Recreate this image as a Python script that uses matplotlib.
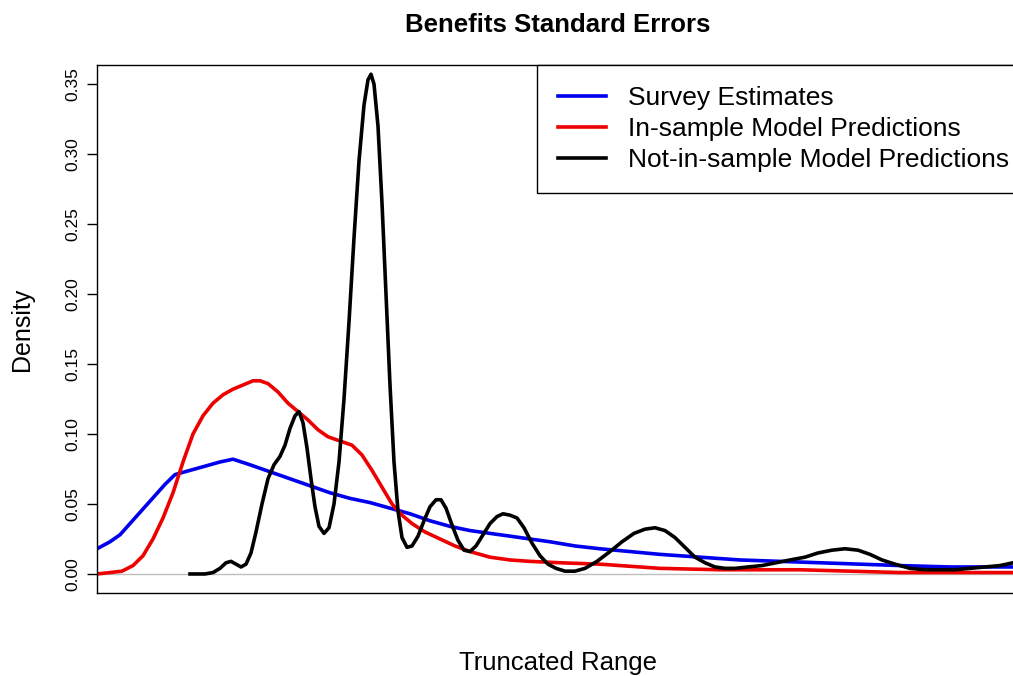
import numpy as np
import matplotlib
matplotlib.use("Agg")
import matplotlib.pyplot as plt

plt.rcParams['font.family'] = ['Liberation Sans', 'DejaVu Sans']

# density curves (x in "truncated range" units, no ticks shown)
survey_x = [97, 110, 120, 135, 150, 165, 175, 190, 205, 220, 233, 250, 270, 290, 310, 330, 350,
            370, 390, 410, 430, 450, 470, 490, 510, 530, 550, 575, 600, 630, 660, 700, 740, 780,
            820, 860, 900, 950, 1013]
survey_y = [0.018, 0.023, 0.028, 0.040, 0.052, 0.064, 0.071, 0.074, 0.077, 0.080, 0.082, 0.078,
            0.073, 0.068, 0.063, 0.058, 0.054, 0.051, 0.047, 0.043, 0.038, 0.034, 0.031, 0.029,
            0.027, 0.025, 0.023, 0.020, 0.018, 0.016, 0.014, 0.012, 0.010, 0.009, 0.008, 0.007,
            0.006, 0.005, 0.005]

insample_x = [97, 110, 122, 133, 143, 153, 163, 173, 183, 193, 203, 213, 223, 233, 243, 253, 260,
              268, 278, 288, 298, 308, 318, 328, 340, 352, 362, 372, 382, 392, 402, 412, 425, 440,
              455, 470, 490, 510, 530, 560, 600, 640, 660, 720, 800, 850, 900, 1013]
insample_y = [0.000, 0.001, 0.002, 0.006, 0.013, 0.025, 0.040, 0.058, 0.080, 0.100, 0.113, 0.122,
              0.128, 0.132, 0.135, 0.138, 0.138, 0.136, 0.130, 0.122, 0.116, 0.110, 0.103, 0.098,
              0.095, 0.092, 0.085, 0.074, 0.062, 0.050, 0.042, 0.036, 0.030, 0.025, 0.020, 0.016,
              0.012, 0.010, 0.009, 0.008, 0.007, 0.005, 0.004, 0.003, 0.003, 0.002, 0.001, 0.001]

notin_x = [190, 205, 213, 220, 226, 231, 236, 241, 246, 251, 256, 262, 268, 274, 280, 285, 290,
           295, 299, 303, 307, 311, 315, 319, 324, 329, 334, 339, 344, 349, 354, 359, 364, 368,
           371, 374, 378, 382, 386, 390, 394, 398, 402, 407, 412, 418, 424, 430, 436, 441, 446,
           452, 458, 464, 470, 476, 483, 490, 497, 503, 510, 517, 524, 532, 540, 548, 556, 565,
           575, 585, 597, 610, 622, 634, 645, 655, 665, 675, 685, 695, 705, 715, 725, 735, 748,
           762, 776, 790, 805, 818, 832, 845, 858, 870, 882, 895, 910, 925, 940, 955, 970, 985,
           1000, 1013]
notin_y = [0.000, 0.000, 0.001, 0.004, 0.008, 0.009, 0.007, 0.005, 0.007, 0.015, 0.030, 0.050,
           0.068, 0.078, 0.084, 0.092, 0.104, 0.113, 0.116, 0.108, 0.090, 0.068, 0.048, 0.034,
           0.029, 0.033, 0.050, 0.080, 0.125, 0.180, 0.240, 0.295, 0.335, 0.353, 0.357, 0.350,
           0.320, 0.265, 0.200, 0.135, 0.080, 0.045, 0.026, 0.019, 0.020, 0.027, 0.038, 0.048,
           0.053, 0.053, 0.047, 0.035, 0.024, 0.017, 0.016, 0.020, 0.028, 0.036, 0.041, 0.043,
           0.042, 0.040, 0.033, 0.022, 0.013, 0.007, 0.004, 0.002, 0.002, 0.004, 0.009, 0.016,
           0.023, 0.029, 0.032, 0.033, 0.031, 0.026, 0.019, 0.012, 0.008, 0.005, 0.004, 0.004,
           0.005, 0.006, 0.008, 0.010, 0.012, 0.015, 0.017, 0.018, 0.017, 0.014, 0.010, 0.007,
           0.004, 0.003, 0.003, 0.003, 0.004, 0.005, 0.006, 0.008]

labels = ["Survey Estimates", "In-sample Model Predictions", "Not-in-sample Model Predictions"]
colors = ["#0000ee", "#ee0000", "black"]
yticks = [0.00, 0.05, 0.10, 0.15, 0.20, 0.25, 0.30, 0.35]

W, H = 1013, 676
fig = plt.figure(figsize=(W / 100, H / 100), dpi=100)
# plot region runs past the right edge, like the original
ax = fig.add_axes([97 / W, (H - 593) / H, (1019 - 97) / W, (593 - 65) / H])

ax.axhline(0, color="#bebebe", lw=1, zorder=1)
ax.plot(survey_x, survey_y, color=colors[0], lw=2.6, label=labels[0])
ax.plot(insample_x, insample_y, color=colors[1], lw=2.6, label=labels[1])
ax.plot(notin_x, notin_y, color=colors[2], lw=2.6, label=labels[2])

ax.set_xlim(97, 1019)
ax.set_ylim(-0.0136, 0.3636)
ax.set_xticks([])
ax.set_yticks(yticks)
ax.set_yticklabels(["%.2f" % v for v in yticks], rotation=90, va="center", fontsize=12.5)
ax.tick_params(axis="y", length=7, width=1, pad=5)
for s in ax.spines.values():
    s.set_linewidth(1)

ax.set_ylabel("Density", fontsize=18)
ax.yaxis.label.set_va("center")
ax.yaxis.set_label_coords(-0.0813, 0.5)
ax.set_xlabel("Truncated Range", fontsize=18.5)
ax.xaxis.set_label_coords(0.5, -0.133)
ax.xaxis.label.set_va("center")
ax.set_title("Benefits Standard Errors", fontsize=18.5, fontweight="bold", y=1.076, va="center", pad=0)

leg = ax.legend(loc="upper left", bbox_to_anchor=((537 - 97) / 922, 1.0), borderaxespad=0,
                fontsize=19, frameon=True, fancybox=False, edgecolor="black", framealpha=1,
                handlelength=1.8, handletextpad=0.85, labelspacing=0.26, borderpad=0.8)
leg.get_frame().set_linewidth(1)

plt.savefig("out.png", dpi=100)
